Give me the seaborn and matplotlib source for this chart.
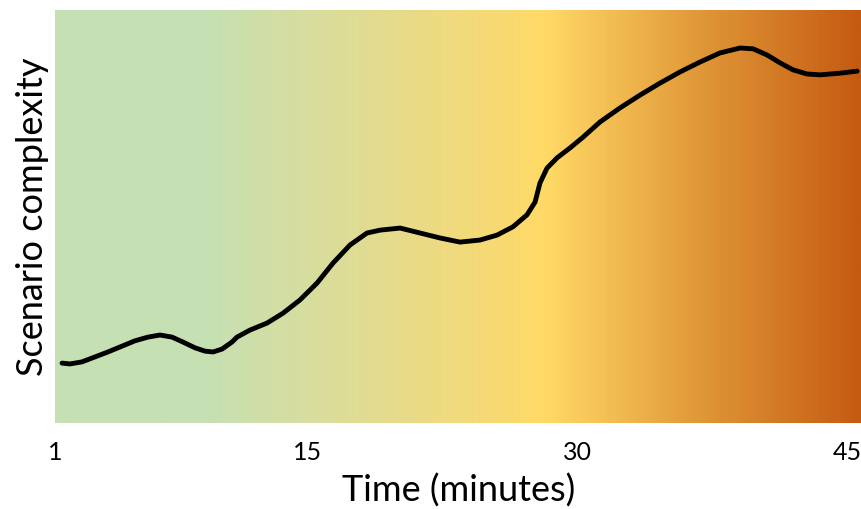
import numpy as np
import pandas as pd
import matplotlib
matplotlib.use("Agg")
import matplotlib.pyplot as plt
from matplotlib.colors import LinearSegmentedColormap
import seaborn as sns

# Data (minutes vs. relative complexity)
minutes = [1.39, 1.83, 2.50, 3.22, 3.94, 4.72, 5.44, 6.17, 6.83, 7.50, 8.11,
           8.78, 9.33, 9.78, 10.28, 10.83, 11.11, 11.83, 12.78, 13.67, 14.61,
           15.56, 16.44, 17.39, 18.33, 19.06, 20.17, 21.28, 22.39, 23.50, 24.61,
           25.56, 26.44, 27.22, 27.67, 27.94, 28.33, 28.89, 29.61, 30.33, 31.28,
           32.39, 33.50, 34.61, 35.72, 36.83, 37.94, 39.06, 39.78, 40.56, 41.28,
           42.00, 42.78, 43.50, 44.61, 45.56]
complexity = [1.45, 1.43, 1.48, 1.60, 1.72, 1.86, 1.99, 2.08, 2.13, 2.08, 1.96,
              1.82, 1.74, 1.72, 1.79, 1.96, 2.08, 2.25, 2.42, 2.66, 2.98,
              3.39, 3.87, 4.31, 4.60, 4.67, 4.72, 4.60, 4.48, 4.38, 4.43,
              4.55, 4.75, 5.04, 5.35, 5.81, 6.17, 6.42, 6.66, 6.92, 7.29,
              7.63, 7.94, 8.23, 8.50, 8.74, 8.96, 9.08, 9.06, 8.91, 8.72,
              8.55, 8.45, 8.43, 8.47, 8.52]
tick_values = [1, 15, 30, 45]
tick_labels = ["1", "15", "30", "45"]

df = pd.DataFrame({"Time (minutes)": minutes, "Scenario complexity": complexity})

sns.set_theme(style="white")
plt.rcParams["font.family"] = ["Lato", "DejaVu Sans"]

fig = plt.figure(figsize=(8.62, 5.09), dpi=100)
ax = fig.add_axes([55 / 862, 86 / 509, 807 / 862, 413 / 509])

x0, x1 = 1.0, 45.83
y0, y1 = 0.0, 10.0

cmap = LinearSegmentedColormap.from_list(
    "bg",
    [(0.0, "#C5E0B4"), (0.19, "#C6E0B3"), (0.42, "#E6DB8C"),
     (0.61, "#FFD966"), (0.80, "#E09838"), (1.0, "#C55A11")],
)
ax.imshow(np.linspace(0, 1, 800)[None, :], extent=[x0, x1, y0, y1],
          aspect="auto", cmap=cmap, zorder=0, interpolation="bilinear")

sns.lineplot(data=df, x="Time (minutes)", y="Scenario complexity", ax=ax,
             color="black", linewidth=3.5, zorder=2, sort=False,
             solid_capstyle="round", solid_joinstyle="round")

ax.set_xlim(x0, x1)
ax.set_ylim(y0, y1)
ax.set_xticks(tick_values)
ax.set_xticklabels(tick_labels, fontsize=18)
ax.set_yticks([])
ax.tick_params(axis="x", length=0, pad=13, colors="black")
for s in ax.spines.values():
    s.set_visible(False)
ax.set_xlabel("Time (minutes)", fontsize=26, color="black", labelpad=7)
ax.set_ylabel("Scenario complexity", fontsize=26, color="black", labelpad=4)

fig.savefig("out.png", dpi=100)
